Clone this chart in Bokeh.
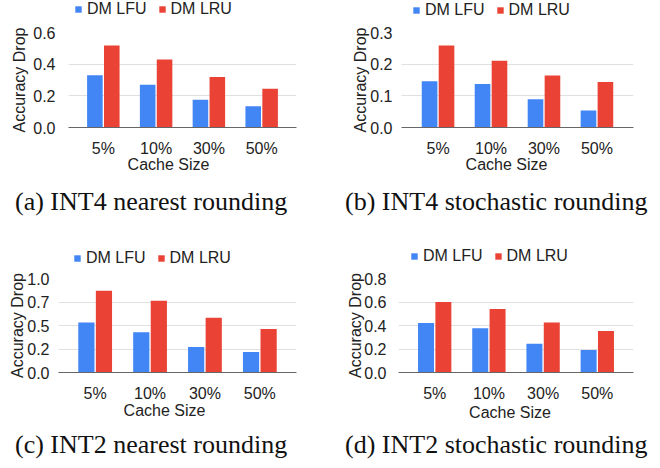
from bokeh.plotting import figure
from bokeh.layouts import column, row
from bokeh.models import (FactorRange, FixedTicker, ColumnDataSource, Range1d,
                          Legend, LegendItem, Label, Div)
from bokeh.transform import dodge
from bokeh.embed import file_html
from bokeh.resources import INLINE

# ---------------- data ----------------
cache_sizes = ["5%", "10%", "30%", "50%"]
series_names = ["DM LFU", "DM LRU"]

int4_nearest_lfu = [0.330, 0.270, 0.175, 0.134]
int4_nearest_lru = [0.518, 0.430, 0.319, 0.245]

int4_stoch_lfu = [0.146, 0.137, 0.089, 0.054]
int4_stoch_lru = [0.259, 0.211, 0.164, 0.144]

int2_nearest_lfu = [0.531, 0.427, 0.271, 0.219]
int2_nearest_lru = [0.871, 0.764, 0.583, 0.462]

int2_stoch_lfu = [0.421, 0.376, 0.244, 0.191]
int2_stoch_lru = [0.601, 0.540, 0.426, 0.354]

yticks_a = [0.0, 0.2, 0.4, 0.6]
ylabels_a = ["0.0", "0.2", "0.4", "0.6"]
yticks_b = [0.0, 0.1, 0.2, 0.3]
ylabels_b = ["0.0", "0.1", "0.2", "0.3"]
yticks_c = [0.0, 0.25, 0.5, 0.75, 1.0]
ylabels_c = ["0.0", "0.2", "0.5", "0.7", "1.0"]
yticks_d = [0.0, 0.2, 0.4, 0.6, 0.8]
ylabels_d = ["0.0", "0.2", "0.4", "0.6", "0.8"]

x_title = "Cache Size"
y_title = "Accuracy Drop"
captions = ["(a) INT4 nearest rounding", "(b) INT4 stochastic rounding",
            "(c) INT2 nearest rounding", "(d) INT2 stochastic rounding"]

BLUE = "#4285F4"
RED = "#EA4335"
TXT = "#222222"
SANS = "Liberation Sans"
SERIF = "Liberation Serif"
W = 330


def blank(h, **kw):
    p = figure(width=W, height=h, x_range=Range1d(0, 1), y_range=Range1d(0, 1),
               x_axis_location=None, y_axis_location=None,
               output_backend="svg", toolbar_location=None, min_border=0, **kw)
    p.outline_line_color = None
    p.grid.visible = False
    return p


def legend_fig(lay):
    p = blank(lay["lh"])
    src = ColumnDataSource(dict(x=[-5.0], top=[0.0]))
    r1 = p.vbar(x="x", top="top", width=0.5, source=src, fill_color=BLUE, line_color=None)
    r2 = p.vbar(x="x", top="top", width=0.5, source=src, fill_color=RED, line_color=None)
    lg = Legend(items=[LegendItem(label=series_names[0], renderers=[r1]),
                       LegendItem(label=series_names[1], renderers=[r2])],
                location=(lay["lx"], lay["ly"]), orientation="horizontal",
                glyph_width=8, glyph_height=8, label_standoff=5, spacing=11,
                padding=0, margin=0, border_line_color=None,
                background_fill_alpha=0, label_text_font=SANS,
                label_text_font_size="16px", label_text_color=TXT)
    p.add_layout(lg)
    return p


def chart_fig(lfu, lru, yticks, ylabels, lay):
    p = figure(width=W, height=lay["ch"],
               x_range=FactorRange(*cache_sizes, range_padding=lay["pad"]),
               y_range=Range1d(0, yticks[-1]),
               output_backend="svg", toolbar_location=None,
               min_border_left=lay["fl"], min_border_right=W - lay["fr"],
               min_border_top=lay["bt"], min_border_bottom=30)
    src = ColumnDataSource(dict(cat=cache_sizes, lfu=lfu, lru=lru))
    p.vbar(x=dodge("cat", -0.16, range=p.x_range), top="lfu", width=0.295,
           source=src, fill_color=BLUE, line_color=None)
    p.vbar(x=dodge("cat", 0.16, range=p.x_range), top="lru", width=0.295,
           source=src, fill_color=RED, line_color=None)

    p.outline_line_color = None
    p.xgrid.grid_line_color = None
    p.ygrid.grid_line_color = "#e0e0e0"
    p.ygrid.grid_line_width = 1

    xa = p.xaxis[0]
    xa.axis_line_color = "#666666"
    xa.major_tick_line_color = None
    xa.minor_tick_line_color = None
    xa.major_label_text_font = SANS
    xa.major_label_text_font_size = "16px"
    xa.major_label_text_color = TXT
    xa.major_label_standoff = 6

    ya = p.yaxis[0]
    ya.ticker = FixedTicker(ticks=yticks)
    ya.major_label_overrides = {t: l for t, l in zip(yticks, ylabels)}
    ya.axis_line_color = None
    ya.major_tick_line_color = None
    ya.minor_tick_line_color = None
    ya.major_label_text_font = SANS
    ya.major_label_text_font_size = "16px"
    ya.major_label_text_color = TXT
    ya.major_label_standoff = lay["ys"]
    ya.axis_label = y_title
    ya.axis_label_text_font = SANS
    ya.axis_label_text_font_size = "16px"
    ya.axis_label_text_font_style = "normal"
    ya.axis_label_text_color = TXT
    ya.axis_label_standoff = lay["ls"]
    return p


def xlabel_fig(lay):
    p = blank(lay["xh"], margin=(-6, 0, 0, 0))
    p.background_fill_alpha = 0
    p.border_fill_alpha = 0
    p.add_layout(Label(x=lay["xx"], y=lay["xy"], x_units="screen", y_units="screen",
                       text=x_title, text_font=SANS, text_font_size="16px",
                       text_color=TXT, text_align="center", text_baseline="middle"))
    return p


def caption_div(caption, lay):
    html = ('<div style="margin:%dpx 0 0 15px; font-family:\'Liberation Serif\', serif; '
            'font-size:26px; line-height:30px; color:#111111; white-space:nowrap;">%s</div>'
            % (lay["cm"], caption))
    return Div(text=html, width=W, height=lay["dh"], margin=0)


def panel(lfu, lru, yticks, ylabels, caption, lay):
    return column(legend_fig(lay), chart_fig(lfu, lru, yticks, ylabels, lay),
                  xlabel_fig(lay), caption_div(caption, lay), spacing=0)


lay_a = dict(lh=20, ch=139, bt=12, xh=27, dh=55, fl=68, fr=296, pad=0.08, ys=7, ls=2,
             lx=6, ly=2, xx=100, xy=16, cm=7)
lay_b = dict(lh=20, ch=139, bt=12, xh=27, dh=55, fl=71, fr=303, pad=0.095, ys=3, ls=-2,
             lx=11, ly=1, xx=105, xy=16, cm=7)
lay_c = dict(lh=32, ch=137, bt=11, xh=22, dh=48, fl=58, fr=296, pad=0.084, ys=3, ls=-2,
             lx=15, ly=0, xx=106, xy=10, cm=10)
lay_d = dict(lh=32, ch=137, bt=11, xh=22, dh=48, fl=68, fr=303, pad=0.084, ys=6, ls=-3,
             lx=12, ly=2, xx=111.5, xy=8.5, cm=10)

pa = panel(int4_nearest_lfu, int4_nearest_lru, yticks_a, ylabels_a, captions[0], lay_a)
pb = panel(int4_stoch_lfu, int4_stoch_lru, yticks_b, ylabels_b, captions[1], lay_b)
pc = panel(int2_nearest_lfu, int2_nearest_lru, yticks_c, ylabels_c, captions[2], lay_c)
pd = panel(int2_stoch_lfu, int2_stoch_lru, yticks_d, ylabels_d, captions[3], lay_d)

layout = column(row(pa, pb, spacing=0), row(pc, pd, spacing=0), spacing=0)

open("out.html", "w").write(file_html(layout, INLINE))
